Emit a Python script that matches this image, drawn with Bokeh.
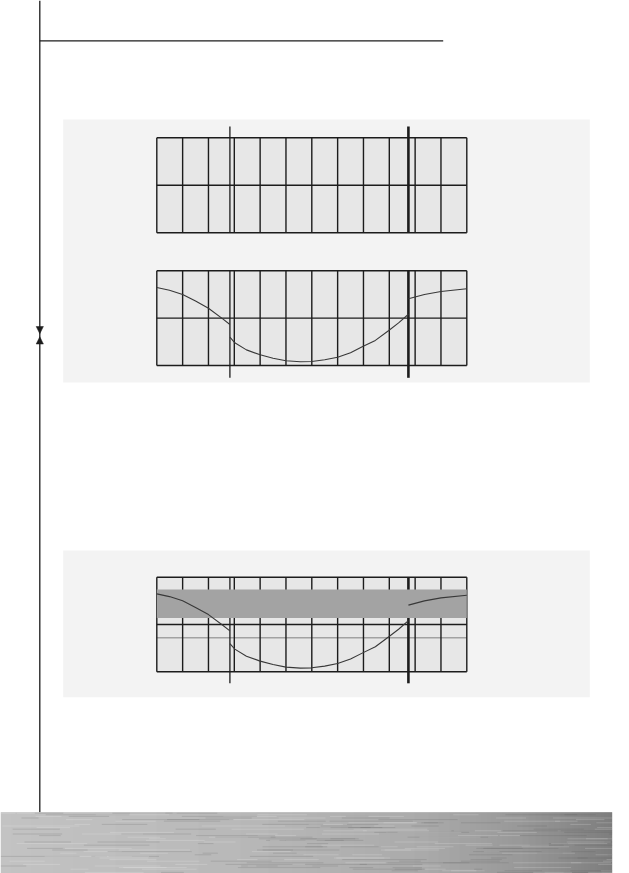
import math
from bokeh.plotting import figure
from bokeh.models import Range1d
from bokeh.embed import file_html
from bokeh.resources import INLINE

# ---------------- data (chart units: x = column index 0..12, y = row units 0..2) ----
n_columns = 12
n_rows = 2
marker_x = [2.83, 9.74]            # thin marker, thick marker
marker_width = [1.3, 2.6]

curve_left_x = [0.0, 0.49, 1.0, 1.5, 2.0, 2.54, 2.83]
curve_left_y = [1.647, 1.59, 1.50, 1.36, 1.21, 0.99, 0.866]
curve_mid_x = [2.83, 3.02, 3.47, 4.0, 4.5, 5.0, 5.56, 6.0, 6.5, 7.0, 7.5, 7.97, 8.46, 8.98, 9.36, 9.74]
curve_mid_y = [0.598, 0.479, 0.33, 0.226, 0.154, 0.099, 0.078, 0.084, 0.12, 0.175, 0.27, 0.40, 0.53, 0.74, 0.90, 1.083]
curve_right_x = [9.74, 10.36, 11.0, 12.0]
curve_right_y = [1.409, 1.50, 1.563, 1.62]

band_low, band_high = 1.14, 1.74   # shaded band in third chart
ref_level = 0.72                   # grey reference line in third chart

# ---------------- layout (page pixels) ----------------
W, H = 629, 873
X0, X1 = 156.3, 466.3
CW = (X1 - X0) / n_columns
charts = [
    dict(top=137.3, bottom=232.3, mk_top=-11.3, mk_bot=0.0, curve=False, band=False),
    dict(top=270.3, bottom=365.0, mk_top=0.0, mk_bot=12.3, curve=True, band=False),
    dict(top=576.7, bottom=671.3, mk_top=0.0, mk_bot=11.5, curve=True, band=True),
]
panels = [(62.7, 589.3, 119.0, 382.0), (62.7, 589.3, 550.0, 696.7)]

LINE = "#1c1c1c"

p = figure(width=W, height=H, output_backend="svg", toolbar_location=None,
           x_range=Range1d(0, W), y_range=Range1d(H, 0),
           min_border=0, outline_line_color=None,
           background_fill_color="white", border_fill_color="white")
p.axis.visible = False
p.xgrid.visible = False
p.ygrid.visible = False

# panels
for (l, r, t, b) in panels:
    p.quad(left=[l], right=[r], top=[t], bottom=[b], fill_color="#f3f3f3", line_color=None)


def px(xu):
    return X0 + xu * CW


for c in charts:
    top, bot = c["top"], c["bottom"]
    RH = (bot - top) / n_rows

    def py(yu, bot=bot, RH=RH):
        return bot - yu * RH

    p.quad(left=[X0], right=[X1], top=[top], bottom=[bot], fill_color="#e7e7e7", line_color=None)
    if c["band"]:
        p.line([X0, X1], [py(ref_level)] * 2, line_color="#a2a2a2", line_width=1.6)
    # grid lines
    xs = [[px(i), px(i)] for i in range(n_columns + 1)]
    ys = [[top, bot] for _ in range(n_columns + 1)]
    for j in range(n_rows + 1):
        xs.append([X0, X1])
        ys.append([py(j), py(j)])
    p.multi_line(xs, ys, line_color=LINE, line_width=1.4)
    # markers
    for mx, mw in zip(marker_x, marker_width):
        p.line([px(mx), px(mx)], [top + c["mk_top"], bot + c["mk_bot"]], line_color=LINE, line_width=mw)
    if c["band"]:
        p.quad(left=[X0], right=[X1], top=[py(band_high)], bottom=[py(band_low)],
               fill_color="#a3a3a3", line_color=None)
    if c["curve"]:
        for cx, cy in [(curve_left_x, curve_left_y), (curve_mid_x, curve_mid_y), (curve_right_x, curve_right_y)]:
            p.line([px(v) for v in cx], [py(v) for v in cy], line_color="#383838", line_width=1.1)

# page decorations
VX = 39.3
p.line([VX, VX], [0, 811.7], line_color=LINE, line_width=1.3)
p.line([VX, 442.7], [40.3, 40.3], line_color=LINE, line_width=1.3)
p.patch([VX - 3.6, VX + 3.6, VX], [326.0, 326.0, 333.2], fill_color=LINE, line_color=LINE, line_width=0.5)
p.patch([VX - 3.6, VX + 3.6, VX], [343.5, 343.5, 336.3], fill_color=LINE, line_color=LINE, line_width=0.5)

# brushed-metal banner (horizontal gradient + fine horizontal streaks)
BX, BT = 611.7, 811.7
stops = [(0, 0xc0), (250, 0xb4), (420, 0xa6), (520, 0x93), (BX, 0x77)]
lefts, rights, cols = [], [], []
step = 1.0
x = 0.0
while x < BX:
    xr = min(x + step, BX)
    xm = (x + xr) / 2
    for (a, va), (b, vb) in zip(stops[:-1], stops[1:]):
        if a <= xm <= b:
            v = va + (vb - va) * (xm - a) / (b - a)
            break
    g = int(round(v))
    lefts.append(x)
    rights.append(min(xr + 0.4, BX))
    cols.append("#%02x%02x%02x" % (g, g, g))
    x = xr
p.quad(left=lefts, right=rights, top=[BT] * len(lefts), bottom=[H] * len(lefts),
       fill_color=cols, line_color=None)

sx0, sx1, sy, scol = [], [], [], []
row = 0
yy = BT + 1.0
while yy < H:
    for k in range(6):
        s = (math.sin(row * 12.9898 + k * 78.233) * 43758.5453) % 1.0
        t = (math.sin(row * 4.1414 + k * 19.19) * 24634.6345) % 1.0
        start = s * BX
        length = 15 + t * 70
        sx0.append(start)
        sx1.append(min(start + length, BX))
        sy.append(yy)
        scol.append("white" if (row + k) % 2 == 0 else "#555555")
    row += 1
    yy += 1.6
p.segment(x0=sx0, y0=sy, x1=sx1, y1=sy, line_color=scol, line_alpha=0.18, line_width=1)

open("out.html", "w").write(file_html(p, INLINE))
